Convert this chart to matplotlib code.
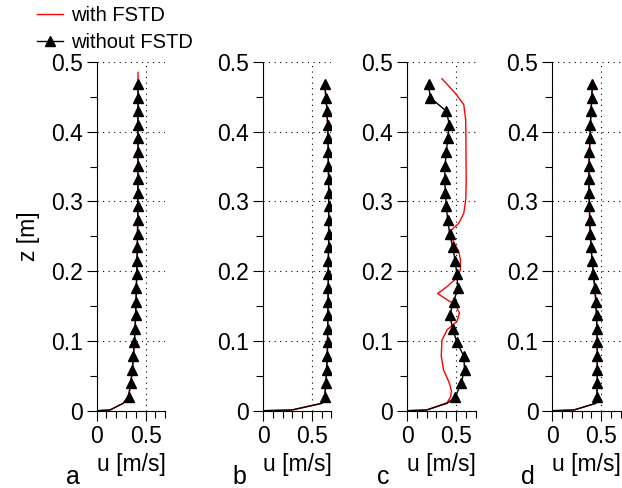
import matplotlib.pyplot as plt
from matplotlib.ticker import MultipleLocator
from matplotlib.lines import Line2D

plt.rcParams['font.family'] = ['Liberation Sans', 'DejaVu Sans']

# heights of the measured points (triangles) and the near-wall points
z_wall = [0.0, 0.001, 0.0106]
z_tri = [0.020, 0.0395, 0.059, 0.0785, 0.098, 0.1175, 0.137, 0.1565, 0.176, 0.1955,
         0.215, 0.2345, 0.254, 0.2735, 0.293, 0.3125, 0.332, 0.3515, 0.371, 0.3905,
         0.410, 0.4295, 0.449, 0.4685]

# without FSTD
wall_a = [0.0, 0.136, 0.27]
u_a = [0.325, 0.348, 0.365, 0.375, 0.385, 0.392, 0.398, 0.402, 0.405, 0.409,
       0.412, 0.415, 0.417, 0.419, 0.420, 0.421, 0.421, 0.422, 0.422, 0.422,
       0.422, 0.422, 0.422, 0.422]
wall_b = [0.0, 0.294, 0.603]
u_b = [0.630, 0.643, 0.650, 0.657, 0.660, 0.660, 0.664, 0.664, 0.667, 0.667,
       0.667, 0.671, 0.671, 0.671, 0.671, 0.671, 0.671, 0.667, 0.667, 0.664,
       0.660, 0.654, 0.643, 0.630]
wall_c = [0.0, 0.2, 0.41]
u_c = [0.495, 0.553, 0.588, 0.580, 0.510, 0.467, 0.436, 0.477, 0.519, 0.510,
       0.492, 0.467, 0.436, 0.416, 0.402, 0.392, 0.385, 0.389, 0.402, 0.416,
       0.433, 0.402, 0.237, 0.220]
wall_d = [0.0, 0.22, 0.445]
u_d = [0.455, 0.459, 0.459, 0.459, 0.459, 0.455, 0.452, 0.445, 0.434, 0.421,
       0.407, 0.396, 0.389, 0.382, 0.379, 0.375, 0.375, 0.375, 0.379, 0.386,
       0.389, 0.396, 0.403, 0.410]

# with FSTD, panel c (the other panels coincide with the black profile)
z_red_c = [0.0, 0.001, 0.0115, 0.02, 0.028, 0.036, 0.042, 0.058, 0.078, 0.101,
           0.116, 0.128, 0.14, 0.152, 0.159, 0.168, 0.178, 0.19, 0.202, 0.216,
           0.228, 0.247, 0.259, 0.269, 0.283, 0.302, 0.33, 0.36, 0.39, 0.417,
           0.439, 0.455, 0.476]
u_red_c = [0.0, 0.2, 0.41, 0.445, 0.454, 0.44, 0.426, 0.375, 0.35, 0.357,
           0.41, 0.51, 0.536, 0.495, 0.41, 0.313, 0.41, 0.505, 0.546, 0.546,
           0.53, 0.46, 0.454, 0.53, 0.58, 0.6, 0.605, 0.603, 0.602, 0.60,
           0.58, 0.495, 0.357]
z_red_top_a = 0.485

letters = ['a', 'b', 'c', 'd']

fig = plt.figure(figsize=(6.22, 4.88), dpi=100)
W, H = 622.0, 488.0
lefts = [96.7, 263.0, 407.0, 552.3]
axw = 68.5
y0, y1 = 410.7, 62.0
fs = 16.5

profiles = [(wall_a, u_a), (wall_b, u_b), (wall_c, u_c), (wall_d, u_d)]

for i, (wall, u) in enumerate(profiles):
    ax = fig.add_axes([lefts[i] / W, 1 - y0 / H, axw / W, (y0 - y1) / H])
    zz = z_wall + z_tri
    uu = wall + u
    if i == 2:
        ax.plot(u_red_c, z_red_c, color='red', lw=1.0, zorder=2)
    elif i == 0:
        ax.plot(uu + [u[-1]], zz + [z_red_top_a], color='red', lw=1.0, zorder=2)
    else:
        ax.plot(uu, zz, color='red', lw=1.0, zorder=2)
    ax.plot(uu, zz, color='black', lw=1.0, marker='^', markersize=7,
            markevery=list(range(len(z_wall), len(zz))), zorder=3)

    ax.set_xlim(0, 0.7)
    ax.set_ylim(0, 0.5)
    ax.xaxis.set_minor_locator(MultipleLocator(0.1))
    ax.yaxis.set_minor_locator(MultipleLocator(0.05))
    ax.set_xticks([0, 0.5])
    ax.set_xticklabels(['0', '0.5'])
    ax.set_yticks([0, 0.1, 0.2, 0.3, 0.4, 0.5])
    ax.set_yticklabels(['0', '0.1', '0.2', '0.3', '0.4', '0.5'])
    ax.tick_params(axis='both', which='major', direction='out', length=7,
                   width=0.8, labelsize=fs, pad=3)
    ax.tick_params(axis='both', which='minor', direction='out', length=5, width=0.8)
    for s in ['top', 'right']:
        ax.spines[s].set_visible(False)
    ax.grid(True, which='major', color='black', linestyle=(0, (1, 4)), lw=0.8)
    ax.set_xlabel('u [m/s]', fontsize=fs, labelpad=4)
    if i == 0:
        ax.set_ylabel('z [m]', fontsize=fs, labelpad=8)
    ax.text(-24 / axw, -(484 - y0) / (y0 - y1), letters[i], transform=ax.transAxes,
            fontsize=18, ha='center', va='baseline')

handles = [Line2D([], [], color='red', lw=1.0),
           Line2D([], [], color='black', lw=1.0, marker='^', markersize=6.5)]
fig.legend(handles, ['with FSTD', 'without FSTD'], loc='upper left',
           bbox_to_anchor=(37 / W, 1 - 6 / H), frameon=False, fontsize=14.5,
           borderpad=0, borderaxespad=0, handlelength=1.3, handletextpad=0.4,
           labelspacing=0.4)

fig.savefig('out.png', dpi=100)
